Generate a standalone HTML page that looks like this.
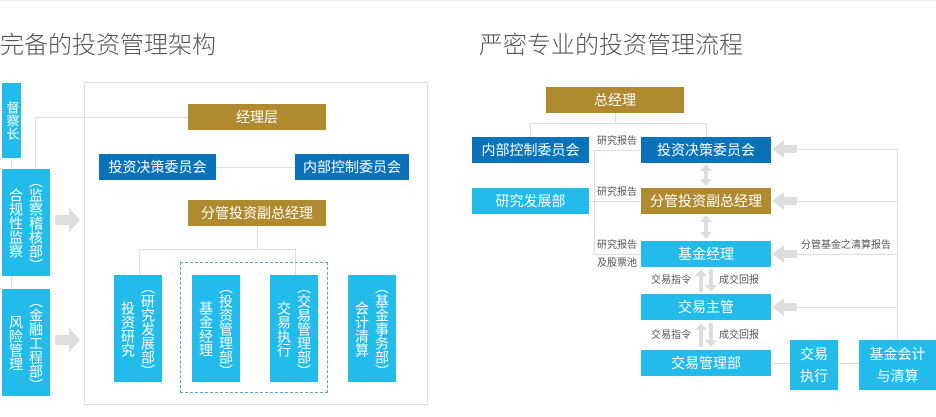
<!DOCTYPE html>
<html><head><meta charset="utf-8"><style>
body{margin:0;width:936px;height:417px;background:#fff;position:relative;overflow:hidden;font-family:"Liberation Sans","Noto Sans CJK SC",sans-serif}
.a{position:absolute;box-sizing:border-box}
.b{position:absolute;display:flex;align-items:center;justify-content:center;color:#fff;font-size:14px;box-sizing:border-box}
.g{background:#b08a2e}.d{background:#0a72b8}.l{background:#22bbea}
.v{writing-mode:vertical-rl;line-height:18px;letter-spacing:0}
.col{display:flex;flex-direction:row;gap:2px;align-items:center}
.hl{position:absolute;height:1px;background:#ddd}
.vl{position:absolute;width:1px;background:#ddd}
.t{position:absolute;font-size:24px;color:#555;font-weight:300}
.s{position:absolute;font-size:10px;color:#555;line-height:12px}
</style></head><body>
<div class="hl" style="left:0;top:0;width:936px;background:#eee"></div>
<div class="t" style="left:0;top:25px">完备的投资管理架构</div>
<div class="t" style="left:479px;top:25px">严密专业的投资管理流程</div>

<!-- left diagram -->
<div class="a" style="left:84px;top:82px;width:344px;height:323px;border:1px solid #ddd"></div>
<div class="vl" style="left:11px;top:158px;height:131px"></div>
<div class="vl" style="left:35px;top:117px;height:52px"></div>
<div class="hl" style="left:35px;top:117px;width:153px"></div>
<div class="hl" style="left:216px;top:167px;width:79px"></div>
<div class="vl" style="left:257px;top:226px;height:23px"></div>
<div class="hl" style="left:139px;top:249px;width:156px"></div>
<div class="vl" style="left:139px;top:249px;height:26px"></div>
<div class="vl" style="left:295px;top:249px;height:26px"></div>
<div class="a" style="left:180px;top:262px;width:148px;height:131px;border:1px dashed #5aa0d0"></div>

<div class="b l v" style="left:2px;top:83px;width:19px;height:75px;font-size:13px">督察长</div>
<div class="b l" style="left:2px;top:169px;width:48px;height:107px"><div class="col"><span class="v">合规性监察</span><span class="v">（监察稽核部）</span></div></div>
<div class="b l" style="left:2px;top:289px;width:48px;height:107px"><div class="col"><span class="v">风险管理</span><span class="v">（金融工程部）</span></div></div>
<svg class="a" style="left:55px;top:208px" width="26" height="24"><polygon points="0,7 14,7 14,0 25,12 14,24 14,17 0,17" fill="#ddd"/></svg>
<svg class="a" style="left:55px;top:328px" width="26" height="24"><polygon points="0,7 14,7 14,0 25,12 14,24 14,17 0,17" fill="#ddd"/></svg>

<div class="b g" style="left:188px;top:104px;width:138px;height:26px">经理层</div>
<div class="b d" style="left:99px;top:154px;width:117px;height:26px">投资决策委员会</div>
<div class="b d" style="left:295px;top:154px;width:114px;height:26px">内部控制委员会</div>
<div class="b g" style="left:188px;top:200px;width:138px;height:26px">分管投资副总经理</div>
<div class="b l" style="left:114px;top:275px;width:48px;height:107px"><div class="col"><span class="v">投资研究</span><span class="v">（研究发展部）</span></div></div>
<div class="b l" style="left:192px;top:275px;width:48px;height:107px"><div class="col"><span class="v">基金经理</span><span class="v">（投资管理部）</span></div></div>
<div class="b l" style="left:270px;top:275px;width:48px;height:107px"><div class="col"><span class="v">交易执行</span><span class="v">（交易管理部）</span></div></div>
<div class="b l" style="left:348px;top:275px;width:48px;height:107px"><div class="col"><span class="v">会计清算</span><span class="v">（基金事务部）</span></div></div>

<!-- right diagram -->
<div class="vl" style="left:615px;top:113px;height:10px"></div>
<div class="hl" style="left:530px;top:123px;width:177px"></div>
<div class="vl" style="left:530px;top:123px;height:14px"></div>
<div class="vl" style="left:706px;top:123px;height:14px"></div>
<div class="vl" style="left:594px;top:150px;height:104px"></div>
<div class="hl" style="left:594px;top:150px;width:47px"></div>
<div class="hl" style="left:589px;top:201px;width:52px"></div>
<div class="hl" style="left:594px;top:254px;width:47px"></div>
<div class="vl" style="left:897px;top:149px;height:191px"></div>
<div class="hl" style="left:797px;top:149px;width:100px"></div>
<div class="hl" style="left:797px;top:201px;width:100px"></div>
<div class="hl" style="left:797px;top:254px;width:100px"></div>
<div class="hl" style="left:797px;top:307px;width:100px"></div>
<div class="hl" style="left:771px;top:363px;width:88px"></div>

<div class="b g" style="left:546px;top:87px;width:138px;height:26px">总经理</div>
<div class="b d" style="left:472px;top:137px;width:117px;height:26px">内部控制委员会</div>
<div class="b d" style="left:641px;top:137px;width:130px;height:26px">投资决策委员会</div>
<div class="b l" style="left:472px;top:188px;width:117px;height:26px">研究发展部</div>
<div class="b g" style="left:641px;top:188px;width:130px;height:26px">分管投资副总经理</div>
<div class="b l" style="left:641px;top:241px;width:130px;height:26px">基金经理</div>
<div class="b l" style="left:641px;top:294px;width:130px;height:26px">交易主管</div>
<div class="b l" style="left:641px;top:350px;width:130px;height:26px">交易管理部</div>
<div class="b l" style="left:790px;top:340px;width:48px;height:50px;text-align:center;line-height:22px">交易<br>执行</div>
<div class="b l" style="left:859px;top:340px;width:77px;height:50px;text-align:center;line-height:22px">基金会计<br>与清算</div>

<div class="s" style="left:597px;top:136px">研究报告</div>
<div class="s" style="left:597px;top:187px">研究报告</div>
<div class="s" style="left:597px;top:240px">研究报告</div>
<div class="s" style="left:597px;top:258px">及股票池</div>
<div class="s" style="left:801px;top:240px">分管基金之清算报告</div>
<div class="s" style="left:651px;top:275px">交易指令</div>
<div class="s" style="left:719px;top:275px">成交回报</div>
<div class="s" style="left:651px;top:330px">交易指令</div>
<div class="s" style="left:719px;top:330px">成交回报</div>

<svg class="a" style="left:0;top:0" width="936" height="417">
<g fill="#ddd">
<polygon points="772,149 784,140 784,145 797,145 797,153 784,153 784,158"/>
<polygon points="772,201 784,192 784,197 797,197 797,205 784,205 784,210"/>
<polygon points="772,254 784,245 784,250 797,250 797,258 784,258 784,263"/>
<polygon points="772,307 784,298 784,303 797,303 797,311 784,311 784,316"/>
<polygon points="706,164 712,171 708,171 708,179 712,179 706,186 700,179 704,179 704,171 700,171"/>
<polygon points="706,215 712,222 708,222 708,232 712,232 706,239 700,232 704,232 704,222 700,222"/>
<polygon points="701,269 707,276 703,276 703,292 699,292 699,276 695,276"/>
<polygon points="711,292 717,285 713,285 713,269 709,269 709,285 705,285"/>
<polygon points="701,323 707,330 703,330 703,347 699,347 699,330 695,330"/>
<polygon points="711,347 717,340 713,340 713,323 709,323 709,340 705,340"/>
</g></svg>
</body></html>
